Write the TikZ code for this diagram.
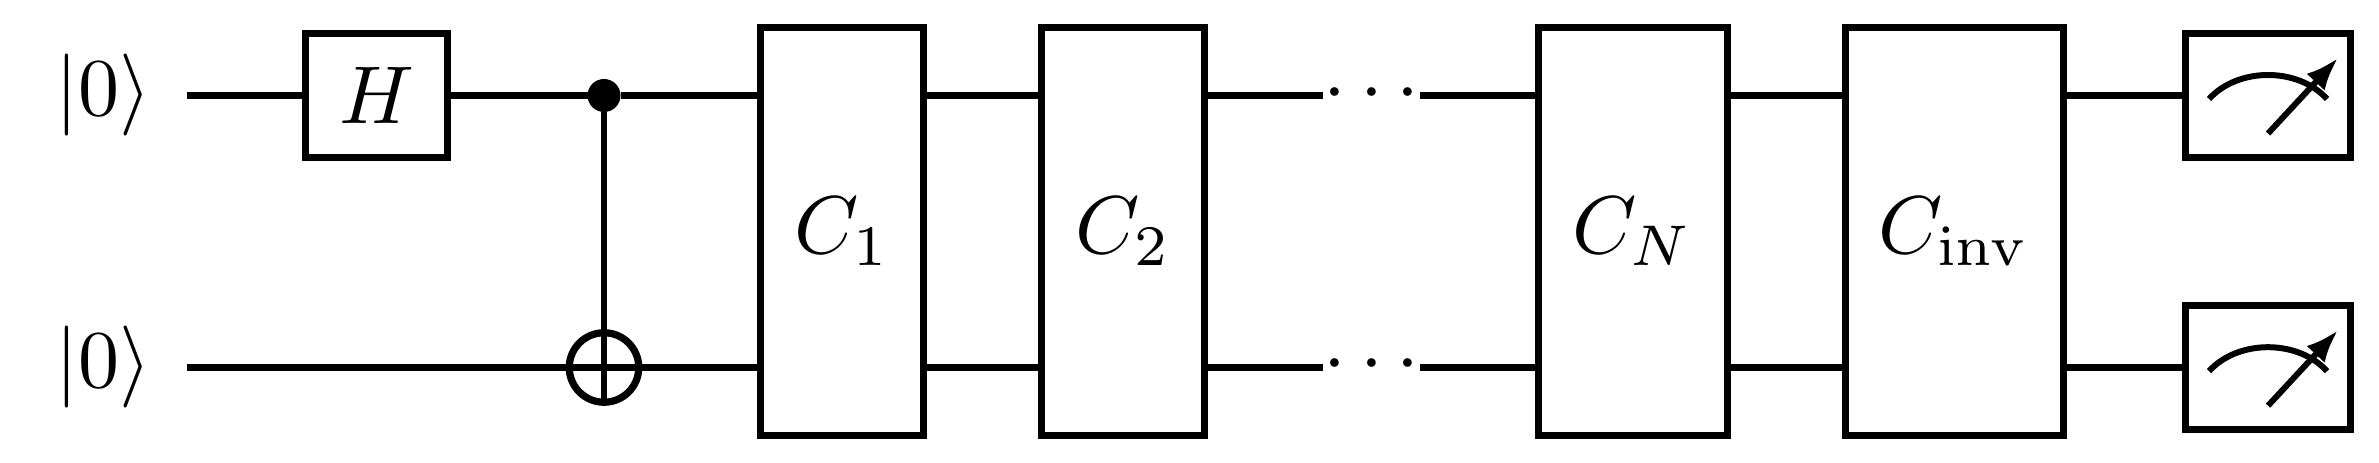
\documentclass[tikz,border=0pt]{standalone}
\usetikzlibrary{arrows.meta}
\tikzset{
  wire/.style={line width=0.85pt},
  gatebox/.style={draw,line width=0.85pt,rectangle,inner sep=0pt,outer sep=0pt},
  tall/.style={gatebox,minimum height=407.7*0.12195pt},
  short/.style={gatebox,minimum height=124*0.12195pt},
  ctrldot/.style={circle,fill=black,inner sep=0pt,outer sep=0pt,minimum size=33*0.12195pt},
  targetring/.style={circle,draw,line width=0.88pt,inner sep=0pt,outer sep=0pt,minimum size=69.5*0.12195pt},
  dotsnode/.style={inner sep=0pt,outer sep=0pt,minimum width=97*0.12195pt,minimum height=10*0.12195pt},
  needle/.style={line width=0.73pt,-{Latex[length=4pt,width=3pt]}},
  dial/.style={line width=0.73pt}
}
\begin{document}
\begin{tikzpicture}[x=0.12195pt,y=-0.12195pt]
\useasboundingbox (0,0) rectangle (2379,463);
\coordinate (w1) at (0,95.5);
\coordinate (w2) at (0,367.3);
\coordinate (s1) at (187,95.5);
\coordinate (s2) at (187,367.3);
\node (k1) at (103.5,95) {$|0\rangle$};
\node (k2) at (103.5,367) {$|0\rangle$};
\node[short,minimum width=142*0.12195pt] (h) at (376.5,95.5) {$H$};
\node[ctrldot] (ctrl) at (604,95.5) {};
\node[targetring] (tgt) at (604,367.5) {};
\node[tall,minimum width=163*0.12195pt] (c1) at (842.3,231.3) {$C_1$};
\node[tall,minimum width=163*0.12195pt] (c2) at (1123.3,231.3) {$C_2$};
\node[tall,minimum width=189*0.12195pt] (cn) at (1632.7,231.3) {$C_N$};
\node[tall,minimum width=218*0.12195pt] (cinv) at (1954.2,231.3) {$C_{\mathrm{inv}}$};
\node[dotsnode] (d1) at (1371.5,94) {$\cdots$};
\node[dotsnode] (d2) at (1371.5,365.5) {$\cdots$};
\node[short,minimum width=165.6*0.12195pt] (m1) at (2268,95.5) {};
\node[short,minimum width=165.6*0.12195pt] (m2) at (2268,367.7) {};
% wires
\draw[wire] (s1) -- (h.west);
\draw[wire] (h.east) -- (ctrl);
\draw[wire] (ctrl) -- (ctrl -| c1.west);
\draw[wire] (s2) -- (s2 -| c1.west);
\draw[wire] (ctrl) -- (tgt.south);
\draw[wire] (c1.east |- w1) -- (c2.west |- w1);
\draw[wire] (c1.east |- w2) -- (c2.west |- w2);
\draw[wire] (c2.east |- w1) -- (d1.west |- w1);
\draw[wire] (c2.east |- w2) -- (d2.west |- w2);
\draw[wire] (d1.east |- w1) -- (cn.west |- w1);
\draw[wire] (d2.east |- w2) -- (cn.west |- w2);
\draw[wire] (cn.east |- w1) -- (cinv.west |- w1);
\draw[wire] (cn.east |- w2) -- (cinv.west |- w2);
\draw[wire] (cinv.east |- w1) -- (m1.west |- w1);
\draw[wire] (cinv.east |- w2) -- (m2.west |- w2);
% meters
\foreach \m in {m1,m2}{
  \draw[dial] ([shift={(-59,3.5)}]\m.center) .. controls ([shift={(-30,-28.5)}]\m.center) and ([shift={(30,-28.5)}]\m.center) .. ([shift={(59,3.5)}]\m.center);
  \draw[needle] ([shift={(0,38)}]\m.center) -- ([shift={(70,-37.5)}]\m.center);
}
\end{tikzpicture}
\end{document}
